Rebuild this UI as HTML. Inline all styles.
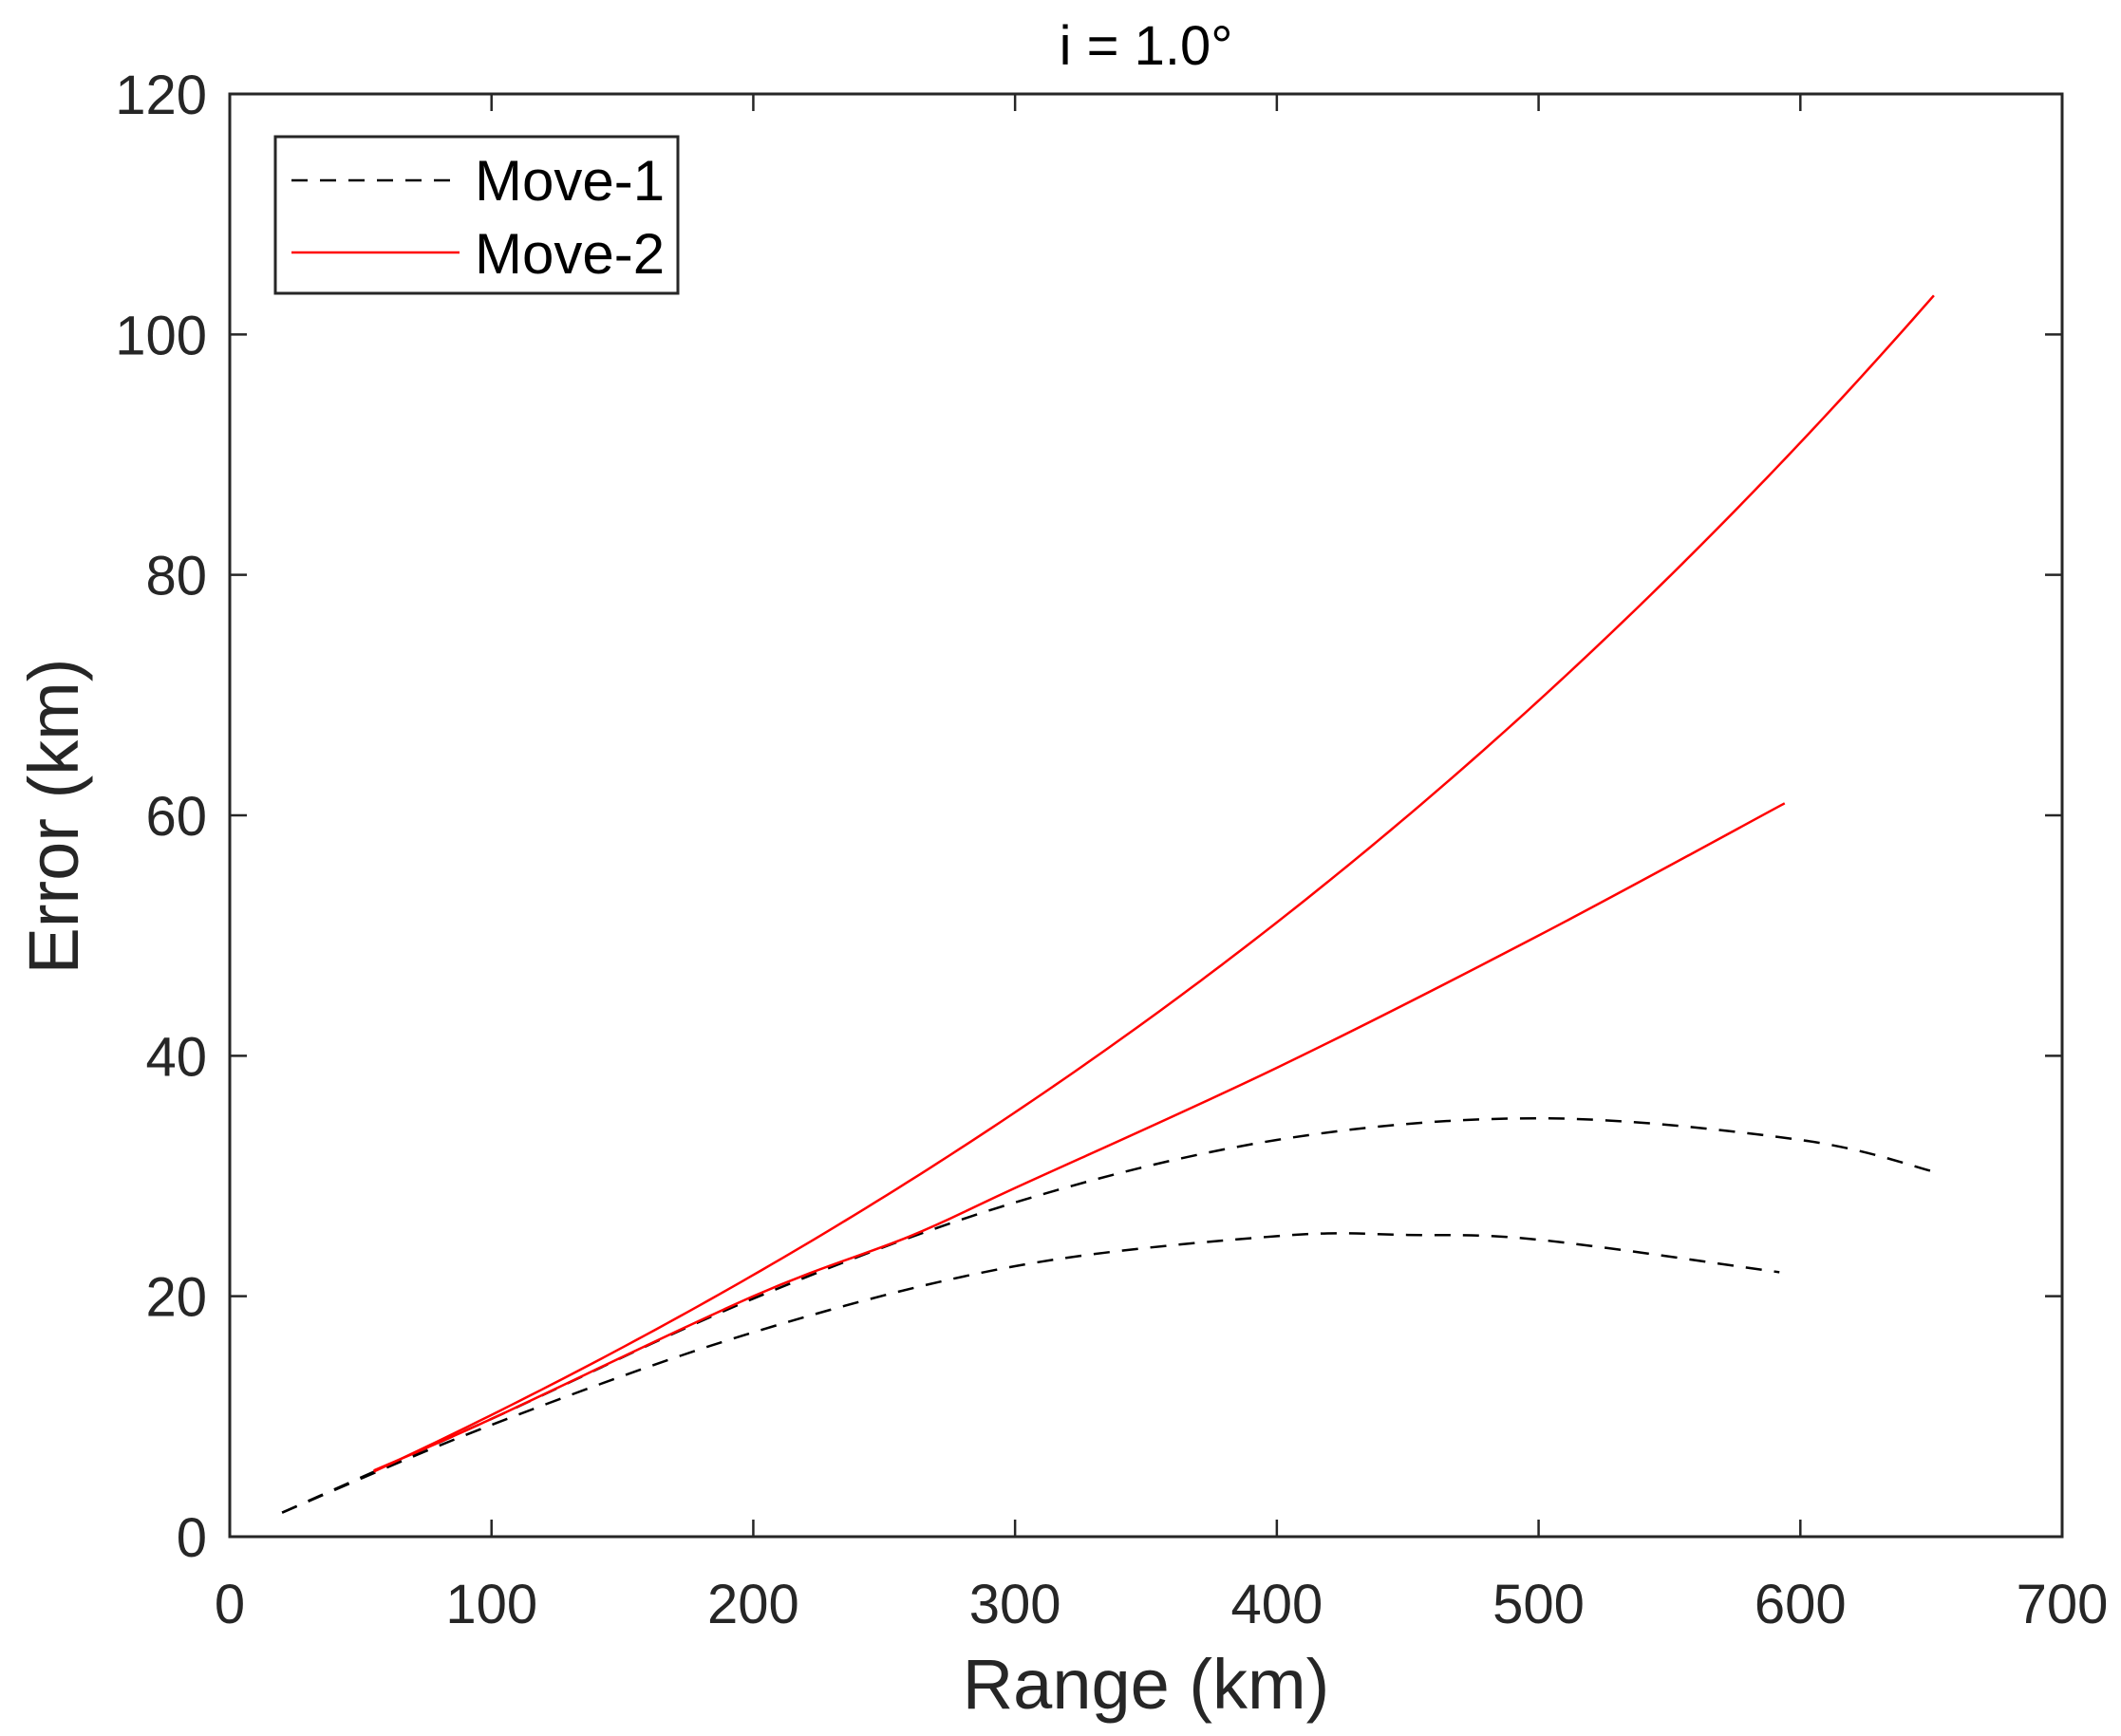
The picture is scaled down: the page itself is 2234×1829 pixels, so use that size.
<!DOCTYPE html>
<html><head><meta charset="utf-8"><style>
html,body{margin:0;padding:0;background:#fff;}
svg{display:block;font-family:"Liberation Sans",Arial,sans-serif;}
</style></head><body>
<svg id="s" width="2234" height="1829" viewBox="0 0 2234 1829" xmlns="http://www.w3.org/2000/svg">
<rect width="2234" height="1829" fill="#fff"/>
<g id="ticks" stroke="#262626" stroke-width="2.5"></g>
<g id="curves" fill="none"></g>
<rect x="242" y="99" width="1930" height="1520" fill="none" stroke="#262626" stroke-width="3"/>
<g id="labels" fill="#262626" font-size="58"></g>
<text x="1207" y="68" text-anchor="middle" font-size="58" fill="#000">i = 1.0°</text>
<text x="1207" y="1800" text-anchor="middle" font-size="74" fill="#262626">Range (km)</text>
<text transform="translate(82,860) rotate(-90)" text-anchor="middle" font-size="74" fill="#262626">Error (km)</text>
<rect x="290" y="144" width="424" height="165" fill="#fff" stroke="#262626" stroke-width="3"/>
<line x1="307" y1="190" x2="478" y2="190" stroke="#000" stroke-width="2.5" stroke-dasharray="17,13"/>
<line x1="307" y1="266" x2="484" y2="266" stroke="#f00" stroke-width="2.5"/>
<text x="500" y="211" font-size="60" fill="#000">Move-1</text>
<text x="500" y="288" font-size="60" fill="#000">Move-2</text>
</svg>
<script>
var L=242,R=2172,T=99,B=1619;
function X(d){return L+d*(R-L)/700;}
function Y(e){return B-e*(B-T)/120;}
var tk=document.getElementById('ticks'),lb=document.getElementById('labels'),h='',t='';
for(var i=0;i<=7;i++){var x=X(i*100);h+='<line x1="'+x+'" y1="'+B+'" x2="'+x+'" y2="'+(B-18)+'"/><line x1="'+x+'" y1="'+T+'" x2="'+x+'" y2="'+(T+18)+'"/>';
t+='<text x="'+x+'" y="1710" text-anchor="middle">'+(i*100)+'</text>';}
for(var j=0;j<=6;j++){var y=Y(j*20);h+='<line x1="'+L+'" y1="'+y+'" x2="'+(L+18)+'" y2="'+y+'"/><line x1="'+R+'" y1="'+y+'" x2="'+(R-18)+'" y2="'+y+'"/>';
t+='<text x="218" y="'+(y+21)+'" text-anchor="end">'+(j*20)+'</text>';}
tk.innerHTML=h;lb.innerHTML=t;
function path(pts){var p=pts.map(function(a){return [X(a[0]),Y(a[1])];});
var d='M'+p[0][0]+','+p[0][1];
for(var i=0;i<p.length-1;i++){var p0=p[Math.max(i-1,0)],p1=p[i],p2=p[i+1],p3=p[Math.min(i+2,p.length-1)];
d+=' C'+(p1[0]+(p2[0]-p0[0])/6)+','+(p1[1]+(p2[1]-p0[1])/6)+' '+(p2[0]-(p3[0]-p1[0])/6)+','+(p2[1]-(p3[1]-p1[1])/6)+' '+p2[0]+','+p2[1];}
return d;}
function fn(f,a,b){var d='';for(var x=a;x<=b+0.01;x+=4){var xx=Math.min(x,b);d+=(d?' L':'M')+X(xx)+','+Y(f(xx));}return d;}
var up=function(d){return 0.095*d+5.66e-5*d*d+6.31e-8*d*d*d;};
var S=[
{c:'#000',dash:'17,13',p:[[20,2],[100,9.8],[200,19.8],[300,27.8],[400,33],[500,34.8],[600,33],[652,30.3]]},
{c:'#000',dash:'17,13',p:[[20,2],[100,9.3],[200,17],[300,22.5],[400,25],[450,25.1],[500,24.7],[592,22]]},
{c:'#f00',dash:'',d:fn(up,55,652)},
{c:'#f00',dash:'',p:[[55,5.5],[100,9.8],[200,20],[260,25],[300,29],[400,39],[500,50],[594,61]]}];
var cg='';S.forEach(function(s){cg+='<path d="'+(s.d||path(s.p))+'" stroke="'+s.c+'" stroke-width="2.5"'+(s.dash?' stroke-dasharray="'+s.dash+'"':'')+'/>';});
document.getElementById('curves').innerHTML=cg;
</script>
</body></html>
